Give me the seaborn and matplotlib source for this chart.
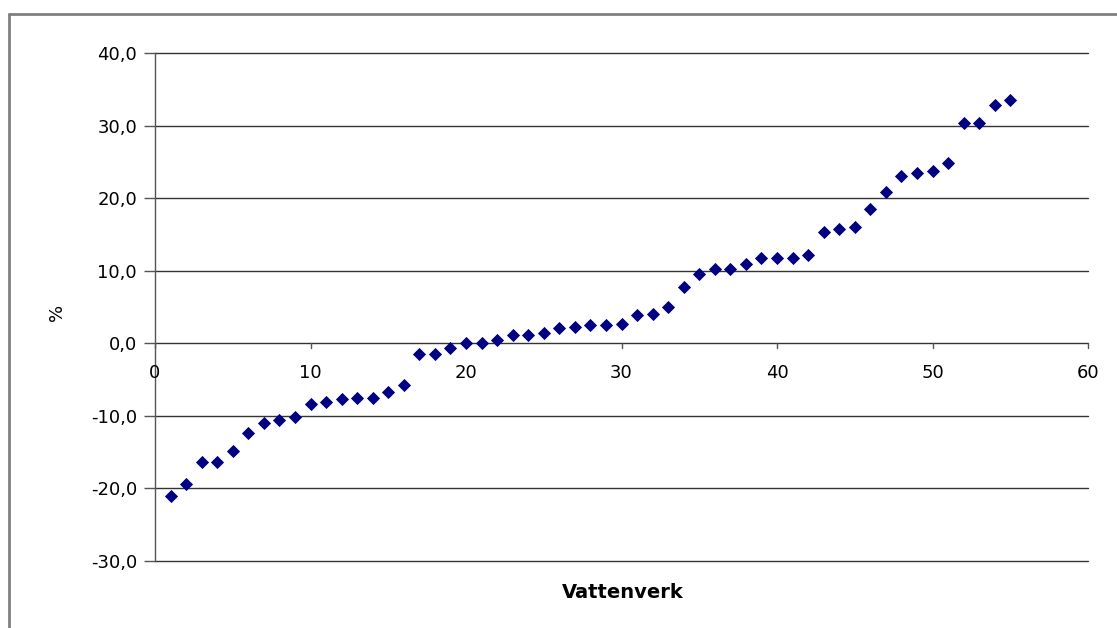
import numpy as np
import pandas as pd
import seaborn as sns
import matplotlib.pyplot as plt
from matplotlib.lines import Line2D
from matplotlib.ticker import FuncFormatter, MultipleLocator

vattenverk = list(range(1, 56))
procent = [-21.1, -19.4, -16.4, -16.3, -14.9, -12.3, -11.0, -10.6, -10.2, -8.3,
           -8.1, -7.7, -7.6, -7.6, -6.7, -5.8, -1.5, -1.5, -0.6, 0.0,
           0.1, 0.4, 1.1, 1.2, 1.4, 2.1, 2.3, 2.5, 2.5, 2.6,
           3.9, 4.0, 5.0, 7.7, 9.6, 10.3, 10.3, 10.9, 11.7, 11.7,
           11.8, 12.1, 15.3, 15.7, 16.0, 18.5, 20.9, 23.1, 23.4, 23.7,
           24.8, 30.3, 30.4, 32.8, 33.5]

df = pd.DataFrame({"Vattenverk": vattenverk, "Procent": procent})

sns.set_style("white")
plt.rcParams['font.family'] = ['DejaVu Sans']
plt.rcParams['text.color'] = 'black'
plt.rcParams['ytick.labelcolor'] = 'black'

fig = plt.figure(figsize=(11.17, 6.28), dpi=100)
ax = fig.add_axes([155 / 1117, 1 - 561 / 628, (1088 - 155) / 1117, (561 - 53) / 628])

sns.scatterplot(data=df, x="Vattenverk", y="Procent", ax=ax, marker="D",
                s=45, color="#000080", edgecolor="#000080", linewidth=0, zorder=3)

ax.set_xlim(0, 60)
ax.set_ylim(-30, 40)
ax.yaxis.set_major_locator(MultipleLocator(10))
ax.xaxis.set_major_locator(MultipleLocator(10))
ax.yaxis.set_major_formatter(FuncFormatter(lambda v, p: f"{v:.1f}".replace(".", ",")))

# horizontal gridlines only
for v in range(-30, 41, 10):
    ax.axhline(v, color="#333333", lw=1.0, zorder=1, clip_on=False)

for s in ["top", "right", "bottom"]:
    ax.spines[s].set_visible(False)
ax.spines["left"].set_color("#555555")
ax.spines["left"].set_linewidth(1.0)
ax.spines["left"].set_position(("data", 0))

# x axis drawn at y = 0
ax.xaxis.set_ticks_position("none")
ax.set_xticklabels([])
for v in range(0, 61, 10):
    ax.plot([v, v], [0, -0.7], color="#555555", lw=1.0, clip_on=False, zorder=2)
    ax.text(v, -2.9, str(v), ha="center", va="top", fontsize=13, color="black")

ax.tick_params(axis="y", which="both", left=True, length=8, width=1.0,
               color="#555555", labelsize=13, labelcolor="black", pad=5)

ax.set_xlabel("")
ax.set_ylabel("")
fig.text(623 / 1117, 1 - 593 / 628, "Vattenverk", ha="center", va="center",
         fontsize=14, fontweight="bold", color="black")
fig.text(57 / 1117, 1 - 312 / 628, "%", ha="center", va="center",
         fontsize=13, rotation=90, color="black")

# outer chart frame
fig.add_artist(Line2D([9 / 1117, 1.0], [1 - 14 / 628, 1 - 14 / 628],
                      transform=fig.transFigure, color="#808080", lw=2))
fig.add_artist(Line2D([9 / 1117, 9 / 1117], [0.0, 1 - 14 / 628],
                      transform=fig.transFigure, color="#808080", lw=2))

fig.savefig("out.png", dpi=100)
